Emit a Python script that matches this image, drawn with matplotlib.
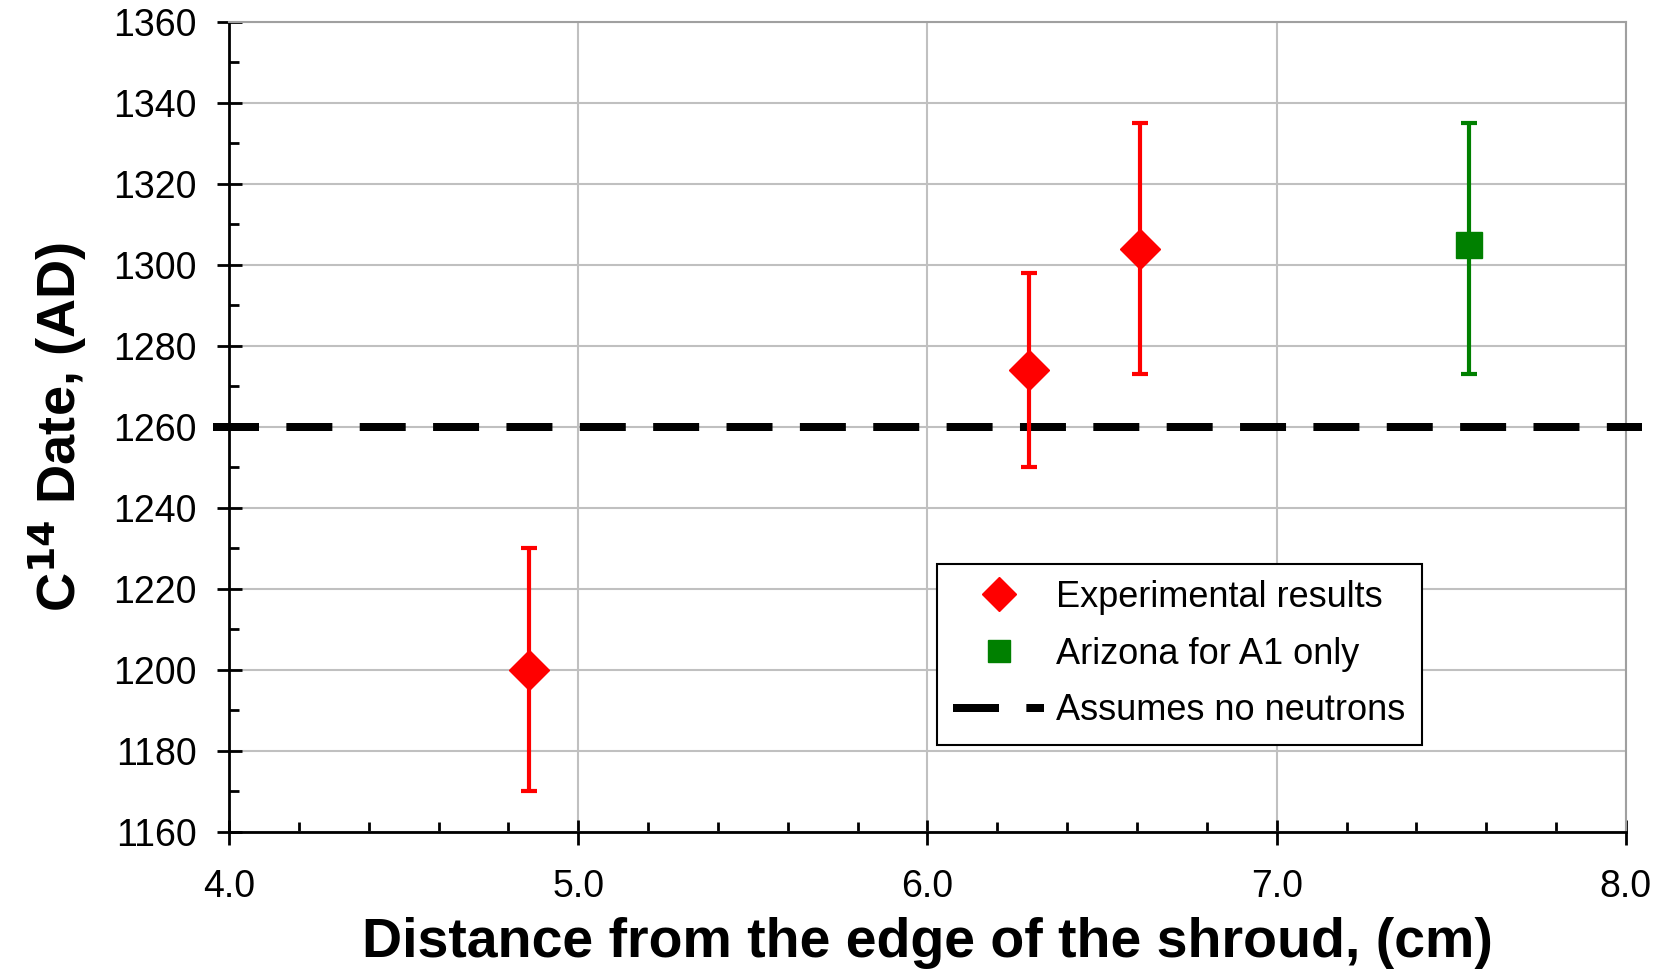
import matplotlib
matplotlib.use("Agg")
import matplotlib.pyplot as plt
from matplotlib.lines import Line2D
from matplotlib.ticker import MultipleLocator, FormatStrFormatter

# data
exp_x = [4.86, 6.29, 6.61]
exp_y = [1200, 1274, 1304]
exp_lo = [1170, 1250, 1273]
exp_hi = [1230, 1298, 1335]

az_x = [7.55]
az_y = [1305]
az_lo = [1273]
az_hi = [1335]

baseline = 1260

plt.rcParams['font.family'] = ['Liberation Sans', 'DejaVu Sans']

fig = plt.figure(figsize=(16.63, 9.69), dpi=100)
ax = fig.add_axes([0.1377, 0.1414, 0.8400, 0.8359])

exp_err = [[y - lo for y, lo in zip(exp_y, exp_lo)], [hi - y for y, hi in zip(exp_y, exp_hi)]]
az_err = [[y - lo for y, lo in zip(az_y, az_lo)], [hi - y for y, hi in zip(az_y, az_hi)]]

ax.errorbar(exp_x, exp_y, yerr=exp_err, fmt='D', color='#ff0000', ms=20, mec='#ff0000',
            elinewidth=3, capsize=6, capthick=3, zorder=4)
ax.errorbar(az_x, az_y, yerr=az_err, fmt='s', color='#008000', ms=19, mec='#008000',
            elinewidth=3, capsize=6, capthick=3, zorder=4)
# dashed reference line runs a little past both axis ends
ax.plot([3.954, 8.046], [baseline, baseline], color='black', lw=5.76, dashes=(5.75, 3.42),
        clip_on=False, zorder=3)

ax.set_xlim(4.0, 8.0)
ax.set_ylim(1160, 1360)
ax.xaxis.set_major_locator(MultipleLocator(1.0))
ax.xaxis.set_minor_locator(MultipleLocator(0.2))
ax.yaxis.set_major_locator(MultipleLocator(20))
ax.yaxis.set_minor_locator(MultipleLocator(10))
ax.xaxis.set_major_formatter(FormatStrFormatter('%.1f'))

ax.grid(True, which='major', color='#c0c0c0', lw=1.5, zorder=0)
ax.set_axisbelow(True)
ax.tick_params(which='major', direction='inout', length=18, width=2, labelsize=27)
ax.tick_params(which='minor', direction='in', length=7, width=2)
ax.tick_params(axis='y', which='major', pad=14)
ax.tick_params(axis='x', which='major', pad=18)

for s in ['left', 'bottom']:
    ax.spines[s].set_linewidth(2)
for s in ['top', 'right']:
    ax.spines[s].set_color('#a0a0a0')
    ax.spines[s].set_linewidth(1.5)

ax.set_xlabel('Distance from the edge of the shroud, (cm)', fontsize=40, fontweight='bold', labelpad=8)
ax.set_ylabel('C$^{\\mathbf{14}}$ Date, (AD)', fontsize=39, fontweight='bold', labelpad=18)

handles = [
    Line2D([], [], ls='none', marker='D', color='#ff0000', ms=17),
    Line2D([], [], ls='none', marker='s', color='#008000', ms=16),
    Line2D([], [], color='black', lw=5.76, dashes=(5.75, 3.42)),
]
labels = ['Experimental results', 'Arizona for A1 only', 'Assumes no neutrons']
leg = ax.legend(handles, labels, loc='lower left', bbox_to_anchor=(0.507, 0.108), fontsize=26,
                frameon=True, fancybox=False, edgecolor='black', framealpha=1, handlelength=2.5,
                borderpad=0.45, labelspacing=0.6, handletextpad=0.35, borderaxespad=0)
leg.get_frame().set_linewidth(1.5)

fig.savefig('out.png', dpi=100)
